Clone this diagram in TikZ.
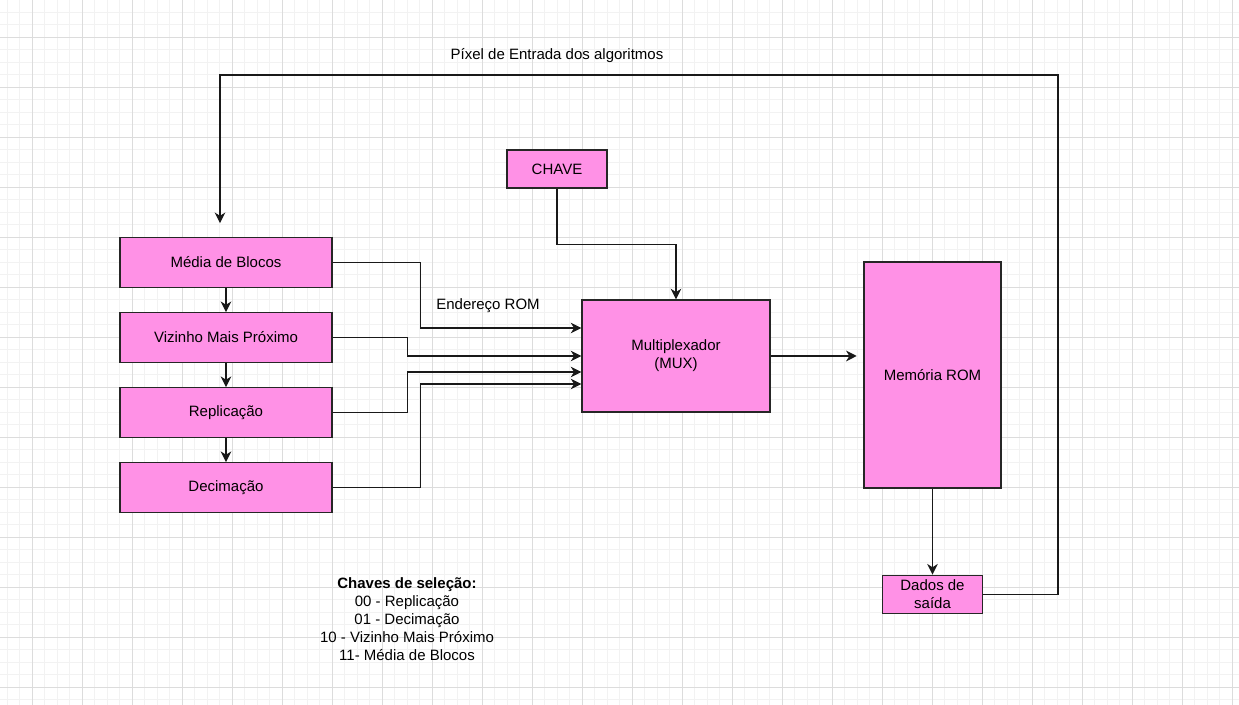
\documentclass[tikz,border=0pt]{standalone}
\usepackage{fontspec}
\setmainfont{Liberation Sans}
\usepackage{xcolor}
\usetikzlibrary{arrows.meta}
\usetikzlibrary{positioning}

\definecolor{boxpink}{HTML}{FF91E6}
\definecolor{gridmajor}{HTML}{DCDCDC}
\definecolor{gridminor}{HTML}{F2F2F2}

\begin{document}
\begin{tikzpicture}[x=0.75pt,y=-0.75pt]
\tikzset{
blockbox/.style={draw=black!85, fill=boxpink, line width=0.9pt, inner sep=0pt,
    align=center, font=\fontsize{11.25}{13.5}\selectfont},
algobox/.style={blockbox, minimum width=159pt, minimum height=37.125pt},
smallbox/.style={blockbox, minimum width=75pt, minimum height=28.5pt},
signalarrow/.style={draw=black!90, line width=0.9pt,
    -{Stealth[length=8pt,width=8pt,inset=2.5pt]}},
labeltext/.style={inner sep=0pt, align=center, font=\fontsize{11.25}{13.5}\selectfont}
}
% fundo quadriculado
\useasboundingbox (0,0) rectangle (1239,705);
\fill[white] (0,0) rectangle (1239,705);
\foreach \gx in {7.3,19.8,...,1239} \draw[gridminor, line width=0.75pt] (\gx,0) -- (\gx,705);
\foreach \gy in {12.3,24.8,...,705} \draw[gridminor, line width=0.75pt] (0,\gy) -- (1239,\gy);
\foreach \gx in {32.3,82.3,...,1239} \draw[gridmajor, line width=0.75pt] (\gx,0) -- (\gx,705);
\foreach \gy in {37.3,87.3,...,705} \draw[gridmajor, line width=0.75pt] (0,\gy) -- (1239,\gy);

% algoritmos
\node[algobox] (media) at (226,262.5) {Média de Blocos};
\node[algobox, below=18.2pt of media] (vizinho) {Vizinho Mais Próximo};
\node[algobox, below=18.2pt of vizinho] (replic) {Replicação};
\node[algobox, below=18.2pt of replic] (decim) {Decimação};
\draw[signalarrow] (media) -- (vizinho);
\draw[signalarrow] (vizinho) -- (replic);
\draw[signalarrow] (replic) -- (decim);

% mux e memoria
\node[smallbox] (chave) at (557,169) {CHAVE};
\node[blockbox, minimum width=141pt, minimum height=84pt] (mux) at (676,356) {Multiplexador\\(MUX)};
\node[blockbox, minimum width=102.75pt, minimum height=169.5pt] (rom) at (932.5,375) {Memória ROM};
\node[smallbox, below=64.5pt of rom] (dados) {Dados de\\saída};

\coordinate (muxin1) at ([yshift=21pt]mux.west);
\coordinate (muxin2) at (mux.west);
\coordinate (muxin3) at ([yshift=-12pt]mux.west);
\coordinate (muxin4) at ([yshift=-21pt]mux.west);
\draw[signalarrow] (media.east) -- ++(88,0) |- (muxin1);
\draw[signalarrow] (vizinho.east) -- ++(75,0) |- (muxin2);
\draw[signalarrow] (replic.east) -- ++(75,0) |- (muxin3);
\draw[signalarrow] (decim.east) -- ++(88,0) |- (muxin4);
\draw[signalarrow] (chave.south) -- ++(0,56) -| (mux.north);
\draw[signalarrow, shorten >=5pt] (mux.east) -- (mux.east -| rom.west);
\draw[signalarrow] (rom.south) -- (dados.north);

% realimentacao
\coordinate (looptop) at (1058,75);
\coordinate (mediain) at ([xshift=-4.5pt]media.north);
\draw[signalarrow, shorten >=10.5pt] (dados.east) -| (looptop) -| (mediain);

% textos
\node[labeltext] (endereco) at (488,306) {Endereço ROM};
\node[labeltext] (pixel) at (557,56) {Píxel de Entrada dos algoritmos};
\node[labeltext] (chaves) at (407,619) {\textbf{Chaves de seleção:}\\00 - Replicação\\01 - Decimação\\10 - Vizinho Mais Próximo\\11- Média de Blocos};
\end{tikzpicture}
\end{document}
